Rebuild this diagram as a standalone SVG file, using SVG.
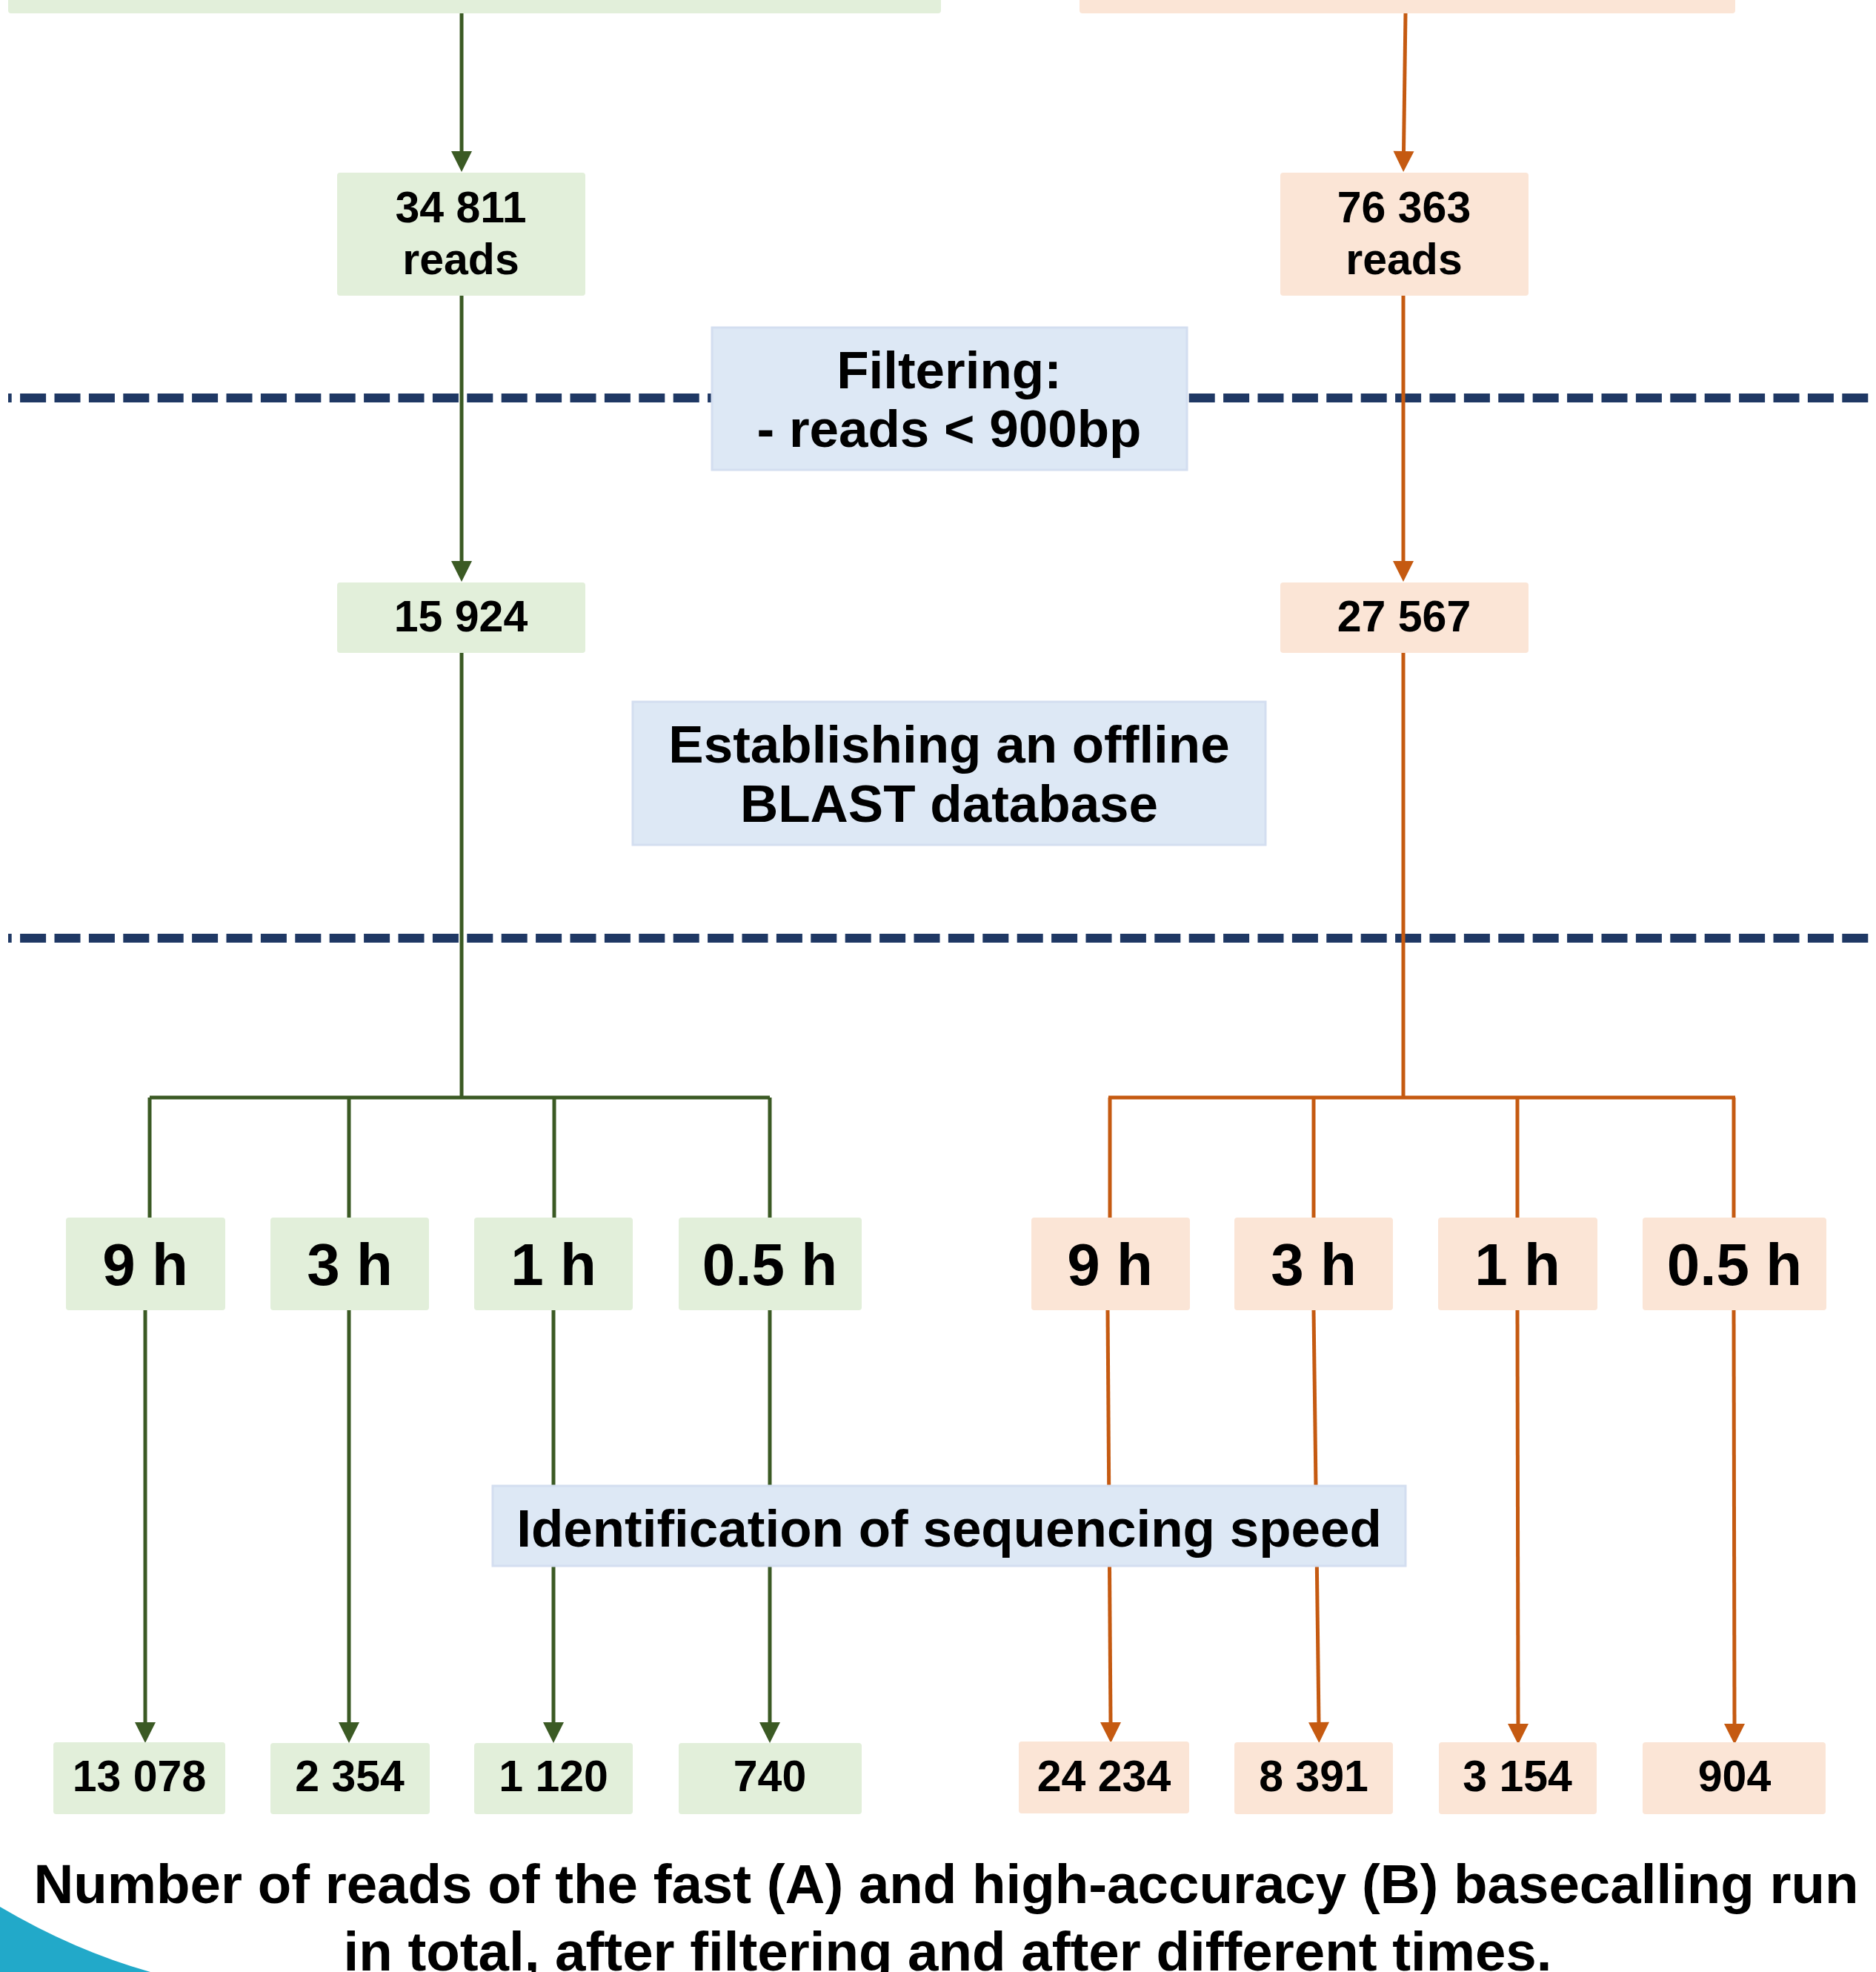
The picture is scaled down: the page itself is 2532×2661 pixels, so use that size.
<svg xmlns="http://www.w3.org/2000/svg" width="2532" height="2661" viewBox="0 0 2532 2661">
<style>
text{font-family:"Liberation Sans",Arial,sans-serif;font-weight:bold;fill:#000;text-anchor:middle}
.g{fill:#e2efda}
.o{fill:#fbe5d6}
.b{fill:#dde8f5;stroke:#d3def0;stroke-width:3}
.lg{stroke:#3b5a24;stroke-width:5;fill:none}
.lo{stroke:#c55a11;stroke-width:5;fill:none}
.ag{marker-end:url(#arrG)}
.ao{marker-end:url(#arrO)}
.dash{stroke:#1f3864;stroke-width:12;stroke-dasharray:35 11.4;stroke-dashoffset:30.3;fill:none}
.n60{font-size:59px}
.n80{font-size:80px}
.n71{font-size:71px}
.cap{font-size:74.5px}
</style>
<defs>
<marker id="arrG" markerUnits="userSpaceOnUse" markerWidth="30" markerHeight="30" refX="0" refY="0" orient="auto" overflow="visible"><path d="M0,-14 L28,0 L0,14 Z" fill="#3b5a24"/></marker>
<marker id="arrO" markerUnits="userSpaceOnUse" markerWidth="30" markerHeight="30" refX="0" refY="0" orient="auto" overflow="visible"><path d="M0,-14 L28,0 L0,14 Z" fill="#c55a11"/></marker>
</defs>
<rect width="2532" height="2661" fill="#fff"/>
<path d="M0,2573 Q100,2632 203,2661 L0,2661 Z" fill="#22a9c9"/>
<g id="separators">
<line class="dash" x1="11" y1="537" x2="2532" y2="537"/>
<line class="dash" x1="11" y1="1266" x2="2532" y2="1266"/>
</g>
<g id="connectors">
<path class="lg ag" d="M623,18 V204"/>
<path class="lg ag" d="M623,399 V757"/>
<path class="lg" d="M623,881 V1481"/>
<path class="lg" d="M202,1481 H1039"/>
<path class="lg" d="M202,1481 V1643 M471,1481 V1643 M748,1481 V1643 M1039,1481 V1643"/>
<path class="lg ag" d="M196,1768 V2324"/>
<path class="lg ag" d="M471,1768 V2324"/>
<path class="lg ag" d="M747,1768 V2324"/>
<path class="lg ag" d="M1039,1768 V2324"/>
<path class="lo ao" d="M1897,18 L1894.5,204"/>
<path class="lo ao" d="M1894,399 V757"/>
<path class="lo" d="M1894,881 V1481"/>
<path class="lo" d="M1496,1481 H2342"/>
<path class="lo" d="M1498,1481 V1643 M1773,1481 V1643 M2048,1481 V1643 M2340,1481 V1643"/>
<path class="lo ao" d="M1495,1768 L1499,2324"/>
<path class="lo ao" d="M1773,1768 L1780,2324"/>
<path class="lo ao" d="M2048,1768 L2049,2326"/>
<path class="lo ao" d="M2340,1768 L2341,2326"/>
</g>
<g id="topA"><rect class="g" x="11" y="-20" width="1259" height="38" rx="4"/></g>
<g id="topB"><rect class="o" x="1457" y="-20" width="885" height="38" rx="4"/></g>
<g id="A_total"><rect class="g" x="455" y="233" width="335" height="166" rx="4"/><text class="n60" x="622" y="300">34 811</text><text class="n60" x="622" y="370">reads</text></g>
<g id="B_total"><rect class="o" x="1728" y="233" width="335" height="166" rx="4"/><text class="n60" x="1895" y="300">76 363</text><text class="n60" x="1895" y="370">reads</text></g>
<g id="filtering"><rect class="b" x="961" y="442" width="641" height="192"/><text class="n71" x="1281" y="524">Filtering:</text><text class="n71" x="1281" y="603">- reads &lt; 900bp</text></g>
<g id="A_filtered"><rect class="g" x="455" y="786" width="335" height="95" rx="4"/><text class="n60" x="622" y="852">15 924</text></g>
<g id="B_filtered"><rect class="o" x="1728" y="786" width="335" height="95" rx="4"/><text class="n60" x="1895" y="852">27 567</text></g>
<g id="blast"><rect class="b" x="854" y="947" width="854" height="193"/><text class="n71" x="1281" y="1029">Establishing an offline</text><text class="n71" x="1281" y="1109">BLAST database</text></g>
<g id="A_9h"><rect class="g" x="89" y="1643" width="215" height="125" rx="4"/><text class="n80" x="196" y="1734">9 h</text></g>
<g id="A_3h"><rect class="g" x="365" y="1643" width="214" height="125" rx="4"/><text class="n80" x="472" y="1734">3 h</text></g>
<g id="A_1h"><rect class="g" x="640" y="1643" width="214" height="125" rx="4"/><text class="n80" x="747" y="1734">1 h</text></g>
<g id="A_05h"><rect class="g" x="916" y="1643" width="247" height="125" rx="4"/><text class="n80" x="1039" y="1734">0.5 h</text></g>
<g id="B_9h"><rect class="o" x="1392" y="1643" width="214" height="125" rx="4"/><text class="n80" x="1498" y="1734">9 h</text></g>
<g id="B_3h"><rect class="o" x="1666" y="1643" width="214" height="125" rx="4"/><text class="n80" x="1773" y="1734">3 h</text></g>
<g id="B_1h"><rect class="o" x="1941" y="1643" width="215" height="125" rx="4"/><text class="n80" x="2048" y="1734">1 h</text></g>
<g id="B_05h"><rect class="o" x="2217" y="1643" width="248" height="125" rx="4"/><text class="n80" x="2341" y="1734">0.5 h</text></g>
<g id="speed"><rect class="b" x="665" y="2005" width="1232" height="108"/><text class="n71" x="1281" y="2087">Identification of sequencing speed</text></g>
<g id="A_9h_n"><rect class="g" x="72" y="2351" width="232" height="97" rx="4"/><text class="n60" x="188" y="2417">13 078</text></g>
<g id="A_3h_n"><rect class="g" x="365" y="2352" width="215" height="96" rx="4"/><text class="n60" x="472" y="2417">2 354</text></g>
<g id="A_1h_n"><rect class="g" x="640" y="2352" width="214" height="96" rx="4"/><text class="n60" x="747" y="2417">1 120</text></g>
<g id="A_05h_n"><rect class="g" x="916" y="2352" width="247" height="96" rx="4"/><text class="n60" x="1039" y="2417">740</text></g>
<g id="B_9h_n"><rect class="o" x="1375" y="2350" width="230" height="97" rx="4"/><text class="n60" x="1490" y="2417">24 234</text></g>
<g id="B_3h_n"><rect class="o" x="1666" y="2351" width="214" height="97" rx="4"/><text class="n60" x="1773" y="2417">8 391</text></g>
<g id="B_1h_n"><rect class="o" x="1942" y="2351" width="213" height="97" rx="4"/><text class="n60" x="2048" y="2417">3 154</text></g>
<g id="B_05h_n"><rect class="o" x="2217" y="2351" width="247" height="97" rx="4"/><text class="n60" x="2341" y="2417">904</text></g>
<g id="caption"><text class="cap" x="1277" y="2568">Number of reads of the fast (A) and high-accuracy (B) basecalling run</text><text class="cap" x="1279" y="2659">in total, after filtering and after different times.</text></g>
</svg>
